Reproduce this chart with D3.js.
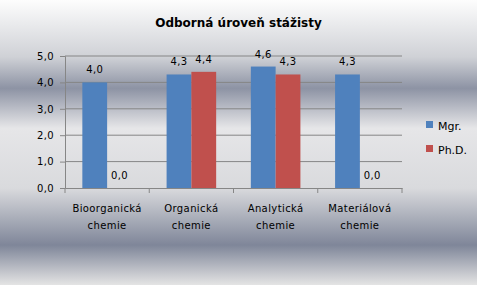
<!DOCTYPE html>
<html>
<head>
<meta charset="utf-8">
<script src="https://cdn.jsdelivr.net/npm/d3@7"></script>
<style>
  body { margin: 0; }
  svg { display: block; font-family: "DejaVu Sans", Tahoma, sans-serif; }
</style>
</head>
<body>
<div id="chart"></div>
<script>
// data
const categories = ["Bioorganická chemie", "Organická chemie", "Analytická chemie", "Materiálová chemie"];
const seriesNames = ["Mgr.", "Ph.D."];
const mgr = [4.0, 4.3, 4.6, 4.3];
const phd = [0.0, 4.4, 4.3, 0.0];
const yTicks = [0, 1, 2, 3, 4, 5];
const colors = ["#4f81bd", "#c0504d"];

const width = 477, height = 285;
const marginLeft = 65, marginRight = 75, marginTop = 56, marginBottom = 97;
const fmt = d => d3.format(".1f")(d).replace(".", ",");

const svg = d3.select("#chart").append("svg")
    .attr("width", width)
    .attr("height", height);

// background gradient
const grad = svg.append("defs").append("linearGradient")
    .attr("id", "bg").attr("x1", 0).attr("y1", 0).attr("x2", 0).attr("y2", 1);
[[0, "#fdfdfd"], [0.2, "#cfd1d6"], [0.31, "#8d93a4"], [0.45, "#e6e6e8"],
 [0.66, "#d9dadd"], [0.86, "#7f8699"], [1, "#e4e4e4"]].forEach(([o, c]) =>
    grad.append("stop").attr("offset", o).attr("stop-color", c));

svg.append("rect")
    .attr("width", width).attr("height", height)
    .attr("fill", "url(#bg)");

const x = d3.scaleBand()
    .domain(categories)
    .range([marginLeft, width - marginRight]);

const xSub = d3.scaleBand()
    .domain(seriesNames)
    .range([0, x.bandwidth()])
    .paddingInner(0)
    .paddingOuter(0.7);

const y = d3.scaleLinear()
    .domain([0, 5])
    .range([height - marginBottom, marginTop]);

// gridlines
svg.append("g")
    .selectAll("line")
    .data(yTicks.slice(1))
    .join("line")
      .attr("x1", marginLeft).attr("x2", width - marginRight)
      .attr("y1", d => y(d)).attr("y2", d => y(d))
      .attr("stroke", "#868686");

// y axis
svg.append("g")
    .attr("transform", `translate(${marginLeft},0)`)
    .call(d3.axisLeft(y).tickValues(yTicks).tickSize(5).tickPadding(6).tickFormat(fmt))
    .call(g => g.select(".domain").attr("stroke", "#868686"))
    .call(g => g.selectAll(".tick line").attr("stroke", "#868686"))
    .call(g => g.selectAll("text").attr("font-size", 10).attr("fill", "#000")
        .attr("letter-spacing", 0.4).attr("font-family", "DejaVu Sans"));

// x axis
svg.append("g")
    .attr("transform", `translate(0,${y(0)})`)
    .call(d3.axisBottom(x).tickSize(0).tickFormat(""))
    .call(g => g.select(".domain").attr("stroke", "#868686"));

svg.append("g")
    .selectAll("line")
    .data(categories)
    .join("line")
      .attr("x1", d => x(d)).attr("x2", d => x(d))
      .attr("y1", y(0)).attr("y2", y(0) + 5)
      .attr("stroke", "#868686");
svg.append("line")
    .attr("x1", width - marginRight).attr("x2", width - marginRight)
    .attr("y1", y(0)).attr("y2", y(0) + 5)
    .attr("stroke", "#868686");

// category labels
svg.append("g")
    .selectAll("text")
    .data(categories)
    .join("text")
      .attr("x", d => x(d) + x.bandwidth() / 2)
      .attr("y", y(0) + 24)
      .attr("text-anchor", "middle")
      .attr("font-size", 10)
      .attr("letter-spacing", 0.4)
      .each(function(d) {
        const parts = d.split(" ");
        d3.select(this).selectAll("tspan").data(parts).join("tspan")
          .attr("x", x(d) + x.bandwidth() / 2)
          .attr("dy", (p, i) => i ? 17 : 0)
          .text(p => p);
      });

// bars
const rows = categories.map((c, i) => ({cat: c, values: [mgr[i], phd[i]]}));
const groups = svg.append("g")
    .selectAll("g")
    .data(rows)
    .join("g")
      .attr("transform", d => `translate(${x(d.cat)},0)`);

groups.selectAll("rect")
    .data(d => d.values.map((v, i) => ({key: seriesNames[i], v, i})))
    .join("rect")
      .attr("x", d => xSub(d.key))
      .attr("width", xSub.bandwidth())
      .attr("y", d => y(d.v))
      .attr("height", d => y(0) - y(d.v))
      .attr("fill", d => colors[d.i]);

groups.selectAll("text")
    .data(d => d.values.map((v, i) => ({key: seriesNames[i], v, i})))
    .join("text")
      .attr("x", d => xSub(d.key) + xSub.bandwidth() / 2)
      .attr("y", d => y(d.v) - 9)
      .attr("text-anchor", "middle")
      .attr("font-size", 10)
      .attr("letter-spacing", 0.4)
      .text(d => fmt(d.v));

// title
svg.append("text")
    .attr("x", width / 2)
    .attr("y", 27)
    .attr("text-anchor", "middle")
    .attr("font-size", 12)
    .attr("font-weight", "bold")
    .text("Odborná úroveň stážisty");

// legend
const legend = svg.append("g")
    .selectAll("g")
    .data(seriesNames)
    .join("g")
      .attr("transform", (d, i) => `translate(426,${121 + i * 24})`);
legend.append("rect")
    .attr("width", 7).attr("height", 7)
    .attr("fill", (d, i) => colors[i]);
legend.append("text")
    .attr("x", 12).attr("y", 8.5)
    .attr("font-size", 11)
    .text(d => d);
</script>
</body>
</html>
